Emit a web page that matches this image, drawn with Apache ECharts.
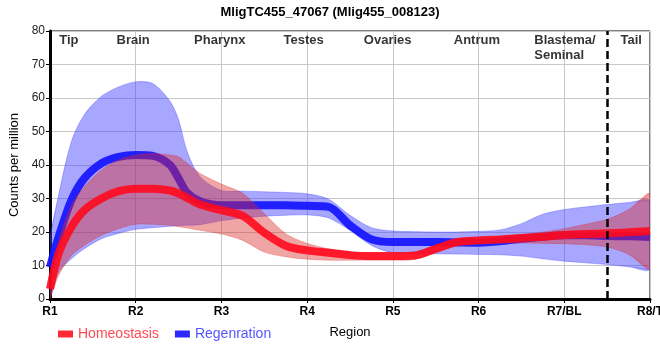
<!DOCTYPE html>
<html><head><meta charset="utf-8">
<script src="https://cdn.jsdelivr.net/npm/echarts@6/dist/echarts.min.js"></script>
<style>html,body{margin:0;padding:0;background:#fff}#c{width:660px;height:360px}</style>
</head><body><div id="c"></div>
<script>
var xLabels = ['R1','R2','R3','R4','R5','R6','R7/BL','R8/T'];
var yTicks = [0,10,20,30,40,50,60,70,80];
var regionNames = ['Tip','Brain','Pharynx','Testes','Ovaries','Antrum','Blastema/\nSeminal','Tail'];
var regionPos = [1.22,1.97,2.98,3.96,4.94,5.98,6.65,7.78];
var xs      = [1,1.1,1.25,1.4,1.6,1.8,2,2.2,2.4,2.5,2.6,2.75,3,3.25,3.5,3.75,4,4.25,4.5,4.75,5,5.25,5.5,5.75,6,6.25,6.5,6.75,7,7.25,7.5,7.75,8];
var homMean = [3,13.5,21.5,26.5,30,32.2,32.9,32.9,32.4,31.5,30.2,28.2,26.5,24.8,19.8,15.9,14.5,13.8,13.1,12.8,12.8,13,15,17,17.5,17.8,18.2,18.6,19.1,19.4,19.6,19.9,20.3];
var homUp   = [5,17,28,33.5,38.5,41.5,43,43.4,43,42.5,40.5,37.5,34.3,31.5,25.5,19.5,16.6,15,14,13.6,13.6,13.8,16,17.8,18.3,18.7,19.3,20,21,22.3,23.8,26.7,31.5];
var homLow  = [0,7,13,16,19,21,22.3,22.3,22,21.6,21.2,20.5,19.4,17.5,14,12.6,11.9,11.6,11.6,11.6,11.6,11.8,13.8,16,16.5,16.7,16.7,16.6,16.5,16.2,15.5,13.3,9];
var regMean = [9.5,18.5,29.5,36,40.5,42.4,43,42.7,40,36,31.7,29.2,28,28,28,28,27.8,27.5,22,17.8,17,17,17,16.9,16.8,17.2,18,18.6,19,19,18.8,18.7,18.5];
var regUp   = [18,31,47,55,60.5,63.3,64.8,64.3,59,53.5,44,36.5,32.4,32.2,32,31.8,31.4,29.8,25,21.3,20.3,20.1,20,20,20.2,20.6,22.5,25.3,26.7,27.5,28.2,28.8,29.4];
var regLow  = [0.5,8,12,15,18,19.6,20.8,21.3,21.7,21.9,22,22.2,23.4,24.2,24.7,25,25.1,24.2,20.5,16,13.8,13.6,13.5,13.4,13.3,13.2,12.8,12,11.3,10.8,10.3,9.6,8.8];
var dividerX = 7.5;

function pairs(v){ return xs.map(function(x,i){ return [x, v[i]]; }); }

var font = 'Liberation Sans, Arial, sans-serif';
var SM = 0.3;

function bandSeries(name, up, low, fill, stroke, z){
  return {
    name:name, type:'custom', silent:true, z:z, clip:true,
    data:[[xs[0], low[0]]],
    encode:{x:0, y:1},
    renderItem:function(params, api){
      var top = xs.map(function(x,i){ return api.coord([x, up[i]]); });
      var bot = xs.map(function(x,i){ return api.coord([x, low[i]]); }).reverse();
      var cs = params.coordSys;
      return {
        type:'group',
        children:[
          {type:'polygon', shape:{points:top.concat(bot), smooth:SM},
            style:{fill:fill, stroke:null}},
          {type:'polyline', shape:{points:top, smooth:SM}, style:{fill:null, stroke:stroke, lineWidth:1}},
          {type:'polyline', shape:{points:bot, smooth:SM}, style:{fill:null, stroke:stroke, lineWidth:1}}
        ],
        clipPath:{type:'rect', shape:{x:cs.x, y:cs.y, width:cs.width, height:cs.height}}
      };
    }
  };
}

var chart = echarts.init(document.getElementById('c'), null, {renderer:'canvas'});
chart.setOption({
  animation:false,
  title:{text:'MligTC455_47067 (Mlig455_008123)', left:'center', top:1,
    textStyle:{fontFamily:font, fontSize:13, fontWeight:'bold', color:'#000'}},
  legend:{left:53, top:322, itemWidth:15, itemHeight:7, itemGap:16, icon:'rect',
    textStyle:{fontFamily:font, fontSize:14},
    data:[{name:'Homeostasis', textStyle:{color:'#ff4a55'}},{name:'Regenration', textStyle:{color:'#5555ff'}}]},
  grid:{left:50, right:10, top:31, bottom:61, show:true, borderColor:'#000', borderWidth:1,
    containLabel:false, outerBoundsMode:'none'},
  xAxis:{type:'value', min:1, max:8, interval:1,
    name:'Region', nameLocation:'middle', nameGap:27,
    nameTextStyle:{fontFamily:font, fontSize:13, color:'#000'},
    axisLine:{lineStyle:{color:'#000', width:3}},
    axisTick:{show:true, length:4, lineStyle:{color:'#000'}},
    axisLabel:{fontFamily:font, fontSize:12, fontWeight:'bold', color:'#000', margin:7,
      formatter:function(v){ return xLabels[Math.round(v)-1] || ''; }},
    splitLine:{show:true, lineStyle:{color:'#c8c8c8', width:1}}},
  yAxis:{type:'value', min:yTicks[0], max:yTicks[yTicks.length-1], interval:10,
    name:'Counts per million', nameLocation:'middle', nameGap:26,
    nameTextStyle:{fontFamily:font, fontSize:13, color:'#000'},
    axisLine:{show:true, lineStyle:{color:'#000', width:3}},
    axisTick:{show:true, length:4, lineStyle:{color:'#000'}},
    axisLabel:{fontFamily:font, fontSize:12, color:'#222', margin:5},
    splitLine:{show:true, lineStyle:{color:'#c8c8c8', width:1}}},
  series:[
    bandSeries('regBand', regUp, regLow, 'rgba(60,60,255,0.45)', 'rgba(60,60,255,0.35)', 1),
    {name:'Regenration', type:'line', data:pairs(regMean), smooth:SM, showSymbol:false, symbol:'none',
      itemStyle:{color:'#2a2aff'}, lineStyle:{width:8, color:'rgba(20,20,255,0.92)'}, z:2},
    bandSeries('homBand', homUp, homLow, 'rgba(220,40,40,0.42)', 'rgba(220,40,40,0.3)', 3),
    {name:'Homeostasis', type:'line', data:pairs(homMean), smooth:SM, showSymbol:false, symbol:'none',
      itemStyle:{color:'#ff2a35'}, lineStyle:{width:8, color:'rgba(255,10,30,0.9)'}, z:4,
      markLine:{silent:true, symbol:'none', label:{show:false},
        lineStyle:{color:'#000', width:2.5, type:[8,4]}, data:[{xAxis:dividerX}]}},
    {name:'regions', type:'scatter', symbolSize:0, silent:true, z:6,
      data:regionNames.map(function(n,i){
        var d = {value:[regionPos[i], yTicks[yTicks.length-1]], name:n};
        if (n.indexOf('\n')>=0) d.label = {align:'left'};
        return d; }),
      label:{show:true, position:'bottom', distance:2, formatter:'{b}', fontFamily:font, fontSize:13,
        fontWeight:'bold', color:'#000', lineHeight:15}}
  ]
});
</script></body></html>
